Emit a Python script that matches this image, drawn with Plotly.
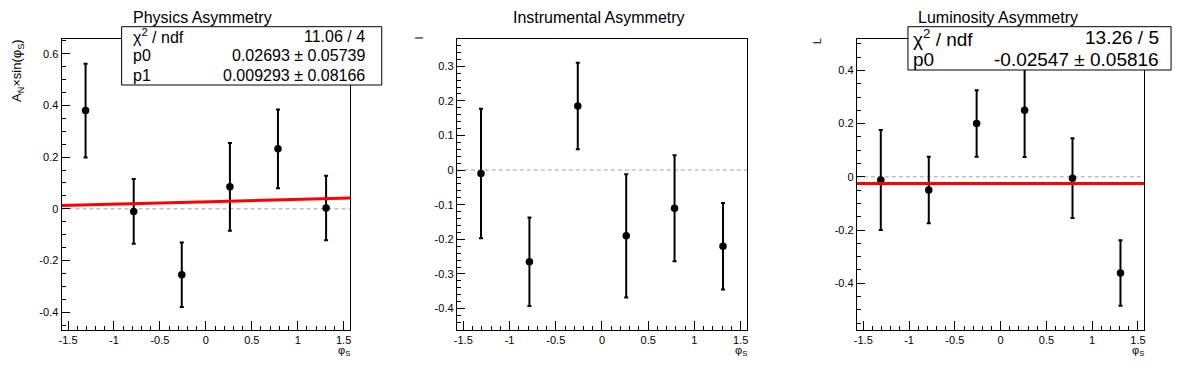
import numpy as np
import plotly.graph_objects as go

# ---------------- data ----------------
phi_centers = [-1.309, -0.785, -0.262, 0.262, 0.785, 1.309]

phys_vals = [0.38, -0.01, -0.255, 0.085, 0.232, 0.003]
phys_errs = [0.181, 0.125, 0.125, 0.17, 0.152, 0.125]

inst_vals = [-0.01, -0.265, 0.185, -0.19, -0.11, -0.22]
inst_errs = [0.187, 0.128, 0.125, 0.178, 0.153, 0.125]

lumi_vals = [-0.012, -0.05, 0.2, 0.25, -0.005, -0.362]
lumi_errs = [0.188, 0.125, 0.125, 0.176, 0.15, 0.123]

phys_fit = [0.02693, 0.009293]   # p0 + p1*phi
lumi_fit = [-0.02547]            # p0

titles = ["Physics Asymmetry", "Instrumental Asymmetry", "Luminosity Asymmetry"]
ytitles = ["A<sub>N</sub>×sin(φ<sub>S</sub>)", "I", "L"]
xtitle = "φ<sub>S</sub>"

phys_stats_labels = ["χ<sup>2</sup> / ndf", "p0", "p1"]
phys_stats_values = ["11.06 / 4", "0.02693 ± 0.05739", "0.009293 ± 0.08166"]
lumi_stats_labels = ["χ<sup>2</sup> / ndf", "p0"]
lumi_stats_values = ["13.26 / 5", "-0.02547 ± 0.05816"]

x_tickvals = [-1.5, -1, -0.5, 0, 0.5, 1, 1.5]
x_ticktext = ["-1.5", "-1", "-0.5", "0", "0.5", "1", "1.5"]
y1_tickvals = [-0.4, -0.2, 0, 0.2, 0.4, 0.6]
y1_ticktext = ["-0.4", "-0.2", "0", "0.2", "0.4", "0.6"]
y2_tickvals = [-0.4, -0.3, -0.2, -0.1, 0, 0.1, 0.2, 0.3]
y2_ticktext = ["-0.4", "-0.3", "-0.2", "-0.1", "0", "0.1", "0.2", "0.3"]
y3_tickvals = [-0.4, -0.2, 0, 0.2, 0.4]
y3_ticktext = ["-0.4", "-0.2", "0", "0.2", "0.4"]

# ---------------- layout geometry (page pixels) ----------------
OFF = 8                      # default page body margin
W, H = 1196 - 2 * OFF, 372 - 2 * OFF
FONT = "Liberation Sans, Arial, Helvetica, sans-serif"
frames_px = [(58.7, 348.3), (455.3, 746.7), (856.7, 1145.3)]
frame_top, frame_bot = 39.3, 330.0
yranges = [(-0.469, 0.656), (-0.462, 0.378), (-0.576, 0.517)]
xrange_ = (-np.pi / 2, np.pi / 2)


def px(x):
    return (x - OFF) / W


def py(y):
    return 1 - (y - OFF) / H


fig = go.Figure()

datasets = [(phys_vals, phys_errs), (inst_vals, inst_errs), (lumi_vals, lumi_errs)]
for i, (vals, errs) in enumerate(datasets):
    ax = "" if i == 0 else str(i + 1)
    fig.add_trace(go.Scatter(
        x=phi_centers, y=vals, mode="markers",
        marker=dict(color="black", size=7.5),
        error_y=dict(type="data", array=errs, color="black", thickness=2, width=2),
        xaxis="x" + ax, yaxis="y" + ax, showlegend=False, hoverinfo="skip"))

# fit lines
xf = np.linspace(xrange_[0], xrange_[1], 200)
fig.add_trace(go.Scatter(x=xf, y=phys_fit[0] + phys_fit[1] * xf, mode="lines",
                         line=dict(color="#ff0000", width=3), xaxis="x", yaxis="y",
                         showlegend=False, hoverinfo="skip"))
fig.add_trace(go.Scatter(x=xf, y=np.full_like(xf, lumi_fit[0]), mode="lines",
                         line=dict(color="#ff0000", width=3), xaxis="x3", yaxis="y3",
                         showlegend=False, hoverinfo="skip"))

tickfont = dict(family=FONT, size=11, color="black")
ytick_sets = [(y1_tickvals, y1_ticktext, 0.05), (y2_tickvals, y2_ticktext, 0.02),
              (y3_tickvals, y3_ticktext, 0.05)]
layout = dict(
    width=W, height=H, margin=dict(l=0, r=0, t=0, b=0),
    paper_bgcolor="white", plot_bgcolor="white",
    font=dict(family=FONT, color="black"),
)
shapes = []
annotations = []
for i in range(3):
    ax = "" if i == 0 else str(i + 1)
    x0, x1 = frames_px[i]
    tv, tt, mdt = ytick_sets[i]
    layout["xaxis" + ax] = dict(
        domain=[px(x0), px(x1)], range=list(xrange_), anchor="y" + ax,
        showgrid=False, zeroline=False, showline=True, linecolor="black", linewidth=1,
        mirror=True, ticks="inside", ticklen=9, tickwidth=1, tickcolor="black",
        tickmode="array", tickvals=x_tickvals, ticktext=x_ticktext, tickfont=tickfont,
        minor=dict(ticks="inside", ticklen=4.5, tickcolor="black", dtick=0.1, tick0=0,
                   showgrid=False),
        fixedrange=True)
    layout["yaxis" + ax] = dict(
        domain=[py(frame_bot), py(frame_top)], range=list(yranges[i]), anchor="x" + ax,
        showgrid=False, zeroline=False, showline=True, linecolor="black", linewidth=1,
        mirror=True, ticks="inside", ticklen=8, tickwidth=1, tickcolor="black",
        tickmode="array", tickvals=tv, ticktext=tt, tickfont=tickfont,
        minor=dict(ticks="inside", ticklen=4, tickcolor="black", dtick=mdt, tick0=0,
                   showgrid=False),
        fixedrange=True)
    # dashed zero line
    shapes.append(dict(type="line", xref="x" + ax + " domain", yref="y" + ax,
                       x0=0, x1=1, y0=0, y1=0, layer="below",
                       line=dict(color="#c0c0c0", width=1.5, dash="4px,3px")))
    # titles
    annotations.append(dict(text=titles[i], x=px((x0 + x1) / 2 - 3), y=py(17.5),
                            xref="paper", yref="paper", showarrow=False,
                            xanchor="center", yanchor="middle", borderpad=0,
                            font=dict(family=FONT, size=16, color="black")))
    # x title
    annotations.append(dict(text=xtitle, x=px(x1 - 6), y=py(351),
                            xref="paper", yref="paper", showarrow=False,
                            xanchor="center", yanchor="middle",
                            font=dict(family=FONT, size=11, color="black")))

# y titles
annotations.append(dict(text=ytitles[0], x=px(15), y=py(70), xref="paper", yref="paper",
                        showarrow=False, textangle=-90, xanchor="center", yanchor="middle",
                        font=dict(family=FONT, size=13, color="black")))
annotations.append(dict(text=ytitles[1], x=px(417), y=py(38), xref="paper", yref="paper",
                        showarrow=False, textangle=-90, xanchor="center", yanchor="middle",
                        font=dict(family=FONT, size=11, color="black")))
annotations.append(dict(text=ytitles[2], x=px(817), y=py(41), xref="paper", yref="paper",
                        showarrow=False, textangle=-90, xanchor="center", yanchor="middle",
                        font=dict(family=FONT, size=11, color="black")))


# stats boxes
def stats_box(bx0, bx1, by0, by1, labels, values, fsize, lpad, rpad):
    shapes.append(dict(type="rect", xref="paper", yref="paper",
                       x0=px(bx0), x1=px(bx1), y0=py(by1), y1=py(by0),
                       fillcolor="white", line=dict(color="black", width=1), layer="above"))
    n = len(labels)
    rh = (by1 - by0) / n
    for k in range(n):
        yc = by0 + rh * (k + 0.5)
        annotations.append(dict(text=labels[k], x=px(bx0 + lpad), y=py(yc),
                                xref="paper", yref="paper", showarrow=False,
                                xanchor="left", yanchor="middle",
                                font=dict(family=FONT, size=fsize, color="black")))
        annotations.append(dict(text=values[k], x=px(bx1 - rpad), y=py(yc),
                                xref="paper", yref="paper", showarrow=False,
                                xanchor="right", yanchor="middle",
                                font=dict(family=FONT, size=fsize, color="black")))


stats_box(119, 380, 26.7, 85, phys_stats_labels, phys_stats_values, 16, 9, 15)
stats_box(908, 1172, 26.7, 70, lumi_stats_labels, lumi_stats_values, 19, 3, 10)

layout["shapes"] = shapes
layout["annotations"] = annotations
fig.update_layout(**layout)
fig.write_html("out.html")
